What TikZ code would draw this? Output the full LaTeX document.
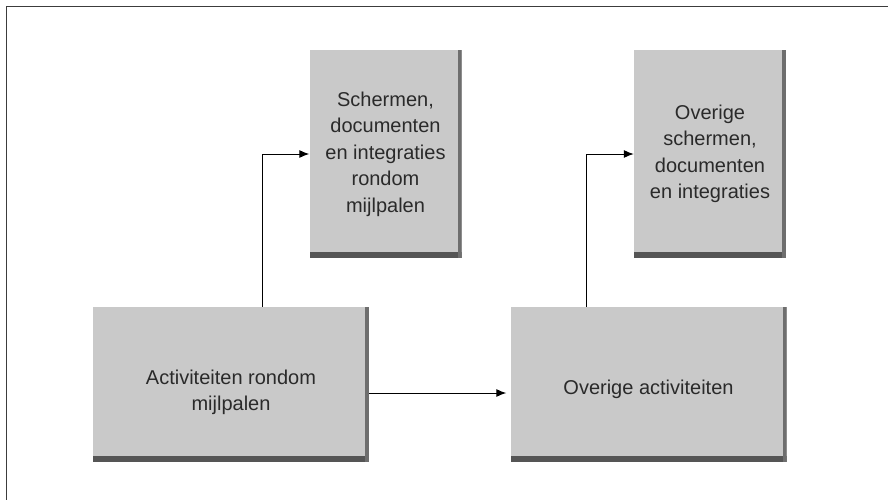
\documentclass[tikz,border=0pt]{standalone}
\usepackage{fontspec}
\setmainfont{Liberation Sans}
\usetikzlibrary{arrows.meta}
\definecolor{boxfill}{HTML}{C9C9C9}
\definecolor{boxshade}{HTML}{555555}
\definecolor{textgray}{HTML}{2A2A2A}
\definecolor{framegray}{HTML}{3C3C3C}
\begin{document}
\begin{tikzpicture}[x=1pt, y=-1pt,
    blok/.style={rectangle, fill=boxfill, text=textgray, align=center, inner sep=0pt,
      font=\fontsize{20}{26.5}\selectfont,
      path picture={
        \fill[boxshade] (path picture bounding box.south west) rectangle ([yshift=6pt]path picture bounding box.south east);
        \fill[boxshade!85] ([xshift=-4pt]path picture bounding box.south east) rectangle (path picture bounding box.north east);
      }},
    hoog/.style={blok, minimum width=152pt, minimum height=208pt},
    breed/.style={blok, minimum width=276pt, minimum height=155pt},
    pijl/.style={-{Latex[length=10pt,width=8pt]}, line width=1pt, black}]
    \useasboundingbox (0,0) rectangle (888,500);
    \draw[framegray, line width=1.8pt] (888,6.5) -- (6.5,6.5) -- (6.5,500);
    \node[hoog] (scherm) at (385.5,154) {Schermen,\\documenten\\en integraties\\rondom\\mijlpalen};
    \node[hoog] (overscherm) at (710,154) {Overige\\schermen,\\documenten\\en integraties};
    \node[breed] (act) at (231,384.5) {\rule{0pt}{30pt}Activiteiten rondom\\mijlpalen};
    \node[breed] (overact) at (648.5,384.5) {\rule{0pt}{24pt}Overige activiteiten};
    \draw[pijl] ([xshift=31pt]act.north) |- (scherm.west);
    \draw[pijl] ([xshift=-62.5pt]overact.north) |- (overscherm.west);
    \draw[pijl, shorten >=4pt] ([yshift=-8.5pt]act.east) -- ([yshift=-8.5pt]act.east -| overact.west);
\end{tikzpicture}
\end{document}
